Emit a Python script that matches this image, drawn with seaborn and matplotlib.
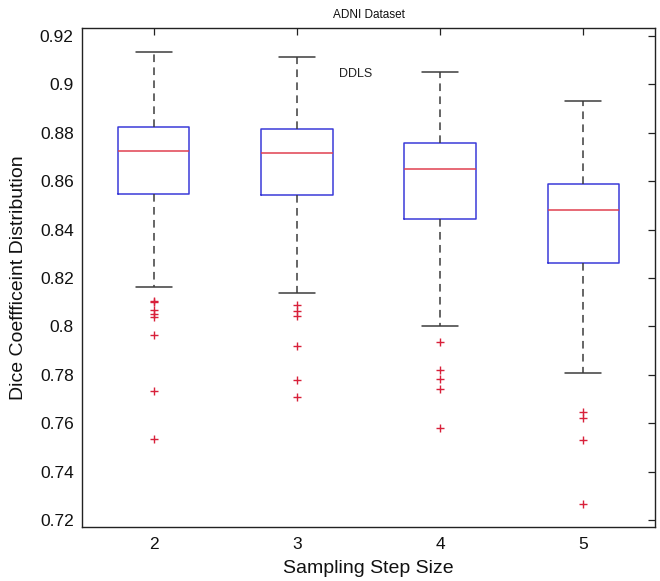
import matplotlib
matplotlib.use("Agg")
import matplotlib.pyplot as plt
import seaborn as sns
import pandas as pd

# ---- data ----
categories = ["2", "3", "4", "5"]
lower_whisker = [0.8164, 0.8136, 0.8001, 0.7808]
q1 = [0.8546, 0.8542, 0.8442, 0.8260]
median = [0.8724, 0.8716, 0.8651, 0.8479]
q3 = [0.8824, 0.8816, 0.8758, 0.8590]
upper_whisker = [0.9134, 0.9111, 0.9049, 0.8930]
outliers = [
    [0.7536, 0.7734, 0.7964, 0.8040, 0.8053, 0.8067, 0.8100, 0.8106],
    [0.7709, 0.7778, 0.7919, 0.8045, 0.8063, 0.8088],
    [0.7581, 0.7741, 0.7785, 0.7820, 0.7934],
    [0.7266, 0.7533, 0.7622, 0.7645],
]
title = "ADNI Dataset"
annotation = "DDLS"
xlabel = "Sampling Step Size"
ylabel = "Dice Coeffficeint Distribution"
yticks = [0.72, 0.74, 0.76, 0.78, 0.80, 0.82, 0.84, 0.86, 0.88, 0.90, 0.92]
yticklabels = ["0.72", "0.74", "0.76", "0.78", "0.8", "0.82", "0.84",
               "0.86", "0.88", "0.9", "0.92"]

# Rebuild a sample per group whose quartiles/whiskers/outliers match the read stats
rows = []
for cat, lw, a, m, b, uw, outs in zip(categories, lower_whisker, q1, median,
                                       q3, upper_whisker, outliers):
    vals = list(outs) + [lw] + [a] * 20 + [m] * 20 + [b] * 20 + [uw]
    rows += [(cat, v) for v in vals]
df = pd.DataFrame(rows, columns=["step", "dice"])

sns.set_theme(style="white")
plt.rcParams["font.family"] = ["Liberation Sans", "DejaVu Sans"]

fig = plt.figure(figsize=(6.6, 5.81), dpi=100)
ax = fig.add_axes([82 / 660, 1 - 527 / 581, (655 - 82) / 660, (527 - 28) / 581])

sns.boxplot(
    data=df, x="step", y="dice", order=categories, ax=ax,
    fill=False, width=0.5, whis=1.5, linewidth=1.1,
    boxprops=dict(color="#3a3ad8"),
    medianprops=dict(color="#e0404f"),
    whiskerprops=dict(color="#3c3c3c", linestyle=(0, (5, 3.5))),
    capprops=dict(color="#3c3c3c"),
    flierprops=dict(marker="+", markeredgecolor="#d8203a", markersize=6,
                    markeredgewidth=1.0),
)

ax.set_xlim(-0.5, 3.5)
ax.set_ylim(0.7172, 0.9232)
ax.set_yticks(yticks)
ax.set_yticklabels(yticklabels)
ax.tick_params(axis="both", direction="in", length=5, width=0.9,
               colors="#222222", labelsize=12.5, top=True, right=True,
               labelcolor="#111111")
ax.tick_params(axis="x", pad=7)
ax.tick_params(axis="y", pad=6)
for s in ax.spines.values():
    s.set_color("#222222")
    s.set_linewidth(1.0)

ax.set_xlabel(xlabel, fontsize=14, color="#111111", labelpad=6)
ax.set_ylabel(ylabel, fontsize=14, color="#111111", labelpad=9)
ax.set_title(title, fontsize=8.5, color="#111111", pad=7)
ax.text(1.41, 0.9042, annotation, fontsize=9, color="#222222",
        ha="center", va="center")

fig.savefig("out.png", dpi=100)
